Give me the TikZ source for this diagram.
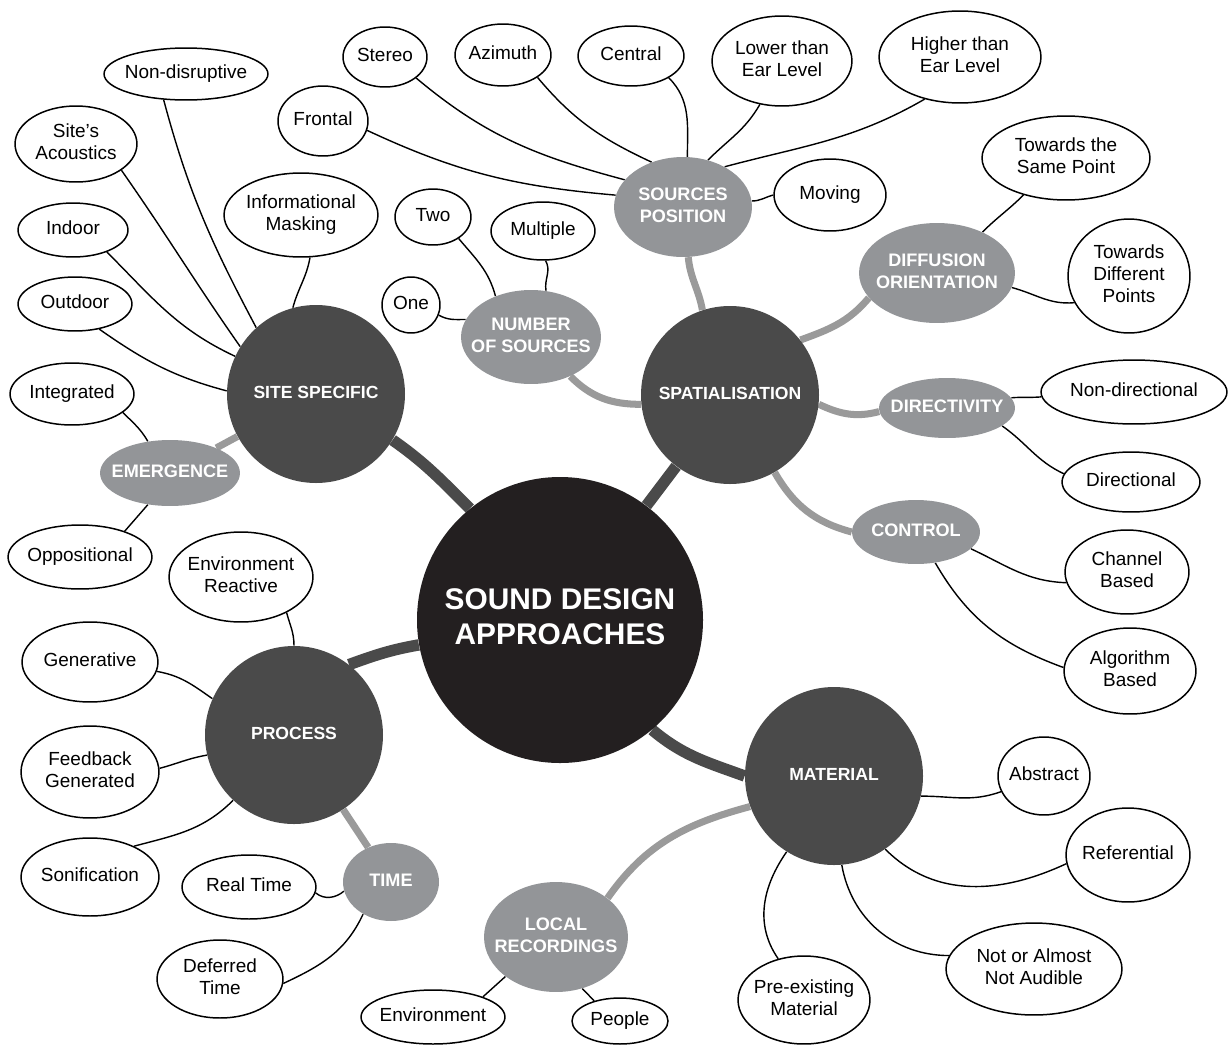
\documentclass[tikz,border=0pt]{standalone}
\usepackage{fontspec}
\setmainfont{Liberation Sans}
\usetikzlibrary{shapes.geometric}
\pgfdeclarelayer{bg}
\pgfdeclarelayer{paper}
\pgfsetlayers{paper,bg,main}
\definecolor{corecol}{HTML}{231F20}
\definecolor{primcol}{HTML}{4A4A4A}
\definecolor{seccol}{HTML}{939598}
\definecolor{linkcol}{HTML}{9A9A9A}
\newcommand\lbl[1]{\makebox[0pt]{\begin{tabular}{@{}c@{}}#1\end{tabular}}}
\tikzset{
 leaf/.style={ellipse, draw=black, line width=0.85pt, fill=white, inner sep=0pt, font=\fontsize{10.8}{12.5}\selectfont},
 primary/.style={circle, fill=primcol, inner sep=0pt, text=white, minimum size=178*0.02cm, font=\fontsize{10}{12}\selectfont\bfseries},
 second/.style={ellipse, fill=seccol, inner sep=0pt, text=white, font=\fontsize{10.3}{12.5}\selectfont\bfseries},
 corenode/.style={circle, fill=corecol, inner sep=0pt, text=white, minimum size=286*0.02cm, font=\fontsize{17}{20}\selectfont\bfseries},
 sz/.style 2 args={minimum width=#1*0.04cm, minimum height=#2*0.04cm},
 thinlink/.style={draw=black, line width=0.8pt},
 seclink/.style={draw=linkcol, line width=4pt},
 mainlink/.style={draw=primcol, line width=6.5pt},
}
\begin{document}
\begin{tikzpicture}[x=0.02cm,y=0.02cm]
\begin{pgfonlayer}{paper}
\fill[white] (0,0) rectangle (1230,-1045);
\end{pgfonlayer}
\useasboundingbox (0,0) rectangle (1230,-1045);

% core and primaries
\node[corenode] (c) at (560,-620) {\lbl{SOUND DESIGN\\APPROACHES}};
\node[primary] (ss) at (316,-394) {\lbl{SITE SPECIFIC}};
\node[primary] (sp) at (730,-395) {\lbl{SPATIALISATION}};
\node[primary] (pr) at (294,-735) {\lbl{PROCESS}};
\node[primary] (ma) at (834,-776) {\lbl{MATERIAL}};

% secondaries
\node[second, sz={69}{50}] (spos) at (683,-207) {\lbl{SOURCES\\POSITION}};
\node[second, sz={70}{47}] (ns) at (531,-337) {\lbl{NUMBER\\OF SOURCES}};
\node[second, sz={78}{50}] (dor) at (937,-273) {\lbl{DIFFUSION\\ORIENTATION}};
\node[second, sz={68}{30}] (dv) at (947,-408) {\lbl{DIRECTIVITY}};
\node[second, sz={64}{32}] (ct) at (916,-532) {\lbl{CONTROL}};
\node[second, sz={70}{33}] (em) at (170,-473) {\lbl{EMERGENCE}};
\node[second, sz={48}{39}] (ti) at (391,-882) {\lbl{TIME}};
\node[second, sz={72}{55}] (lr) at (556,-937) {\lbl{LOCAL\\RECORDINGS}};

% leaves
\node[leaf, sz={82}{26}] (nd) at (186,-74) {\lbl{Non-disruptive}};
\node[leaf, sz={61}{38}] (sa) at (76,-144) {\lbl{Site’s\\Acoustics}};
\node[leaf, sz={55}{27}] (indr) at (73,-230) {\lbl{Indoor}};
\node[leaf, sz={57}{27}] (od) at (75,-304) {\lbl{Outdoor}};
\node[leaf, sz={77}{42}] (im) at (301,-215) {\lbl{Informational\\Masking}};
\node[leaf, sz={62}{31}] (ig) at (72,-394) {\lbl{Integrated}};
\node[leaf, sz={72}{32}] (op) at (80,-557) {\lbl{Oppositional}};
\node[leaf, sz={45}{35}] (fr) at (323,-121) {\lbl{Frontal}};
\node[leaf, sz={42}{30}] (st) at (385,-57) {\lbl{Stereo}};
\node[leaf, sz={48}{31}] (az) at (503,-55) {\lbl{Azimuth}};
\node[leaf, sz={53}{30}] (ce) at (631,-56) {\lbl{Central}};
\node[leaf, sz={70}{45}] (lo) at (782,-61) {\lbl{Lower than\\Ear Level}};
\node[leaf, sz={81}{46}] (hi) at (960,-57) {\lbl{Higher than\\Ear Level}};
\node[leaf, sz={56}{36}] (mv) at (830,-195) {\lbl{Moving}};
\node[leaf, sz={84}{42}] (ts) at (1066,-158) {\lbl{Towards the\\Same Point}};
\node[leaf, sz={61}{57}] (td) at (1129,-276) {\lbl{Towards\\Different\\Points}};
\node[leaf, sz={93}{32}] (ndir) at (1134,-392) {\lbl{Non-directional}};
\node[leaf, sz={69}{30}] (dir) at (1131,-482) {\lbl{Directional}};
\node[leaf, sz={62}{42}] (cb) at (1127,-572) {\lbl{Channel\\Based}};
\node[leaf, sz={66}{43}] (ab) at (1130,-671) {\lbl{Algorithm\\Based}};
\node[leaf, sz={29}{28}] (one) at (411,-305) {\lbl{One}};
\node[leaf, sz={38}{28}] (two) at (433,-217) {\lbl{Two}};
\node[leaf, sz={52}{29}] (mu) at (543,-231) {\lbl{Multiple}};
\node[leaf, sz={72}{45}] (er) at (241,-577) {\lbl{Environment\\Reactive}};
\node[leaf, sz={68}{40}] (ge) at (90,-662) {\lbl{Generative}};
\node[leaf, sz={69}{46}] (fg) at (90,-772) {\lbl{Feedback\\Generated}};
\node[leaf, sz={69}{39}] (so) at (90,-877) {\lbl{Sonification}};
\node[leaf, sz={67}{32}] (rt) at (249,-887) {\lbl{Real Time}};
\node[leaf, sz={63}{39}] (dt) at (220,-979) {\lbl{Deferred\\Time}};
\node[leaf, sz={46}{39}] (abs) at (1044,-776) {\lbl{Abstract}};
\node[leaf, sz={62}{47}] (ref) at (1128,-855) {\lbl{Referential}};
\node[leaf, sz={88}{46}] (na) at (1034,-969) {\lbl{Not or Almost\\Not Audible}};
\node[leaf, sz={66}{44}] (pe) at (804,-1000) {\lbl{Pre-existing\\Material}};
\node[leaf, sz={72}{27}] (env) at (433,-1017) {\lbl{Environment}};
\node[leaf, sz={48}{23}] (pp) at (620,-1021) {\lbl{People}};

\begin{pgfonlayer}{bg}
% core links
\draw[mainlink] (ss.-31) to[out=-35,in=135] (c.129);
\draw[mainlink] (c) -- (sp);
\draw[mainlink] (pr.52) to[out=20,in=190] (c.190);
\draw[mainlink] (c.-50) to[out=-40,in=160] (ma.180);
% secondary links
\draw[seclink] (em) -- (ss);
\draw[seclink] (spos.-84) to[out=-85,in=100] (sp.108);
\draw[seclink] (ns.-45) to[out=-45,in=180] (sp.186);
\draw[seclink] (sp.38) to[out=20,in=-130] (dor.-160);
\draw[seclink] (sp.-6) to[out=-25,in=195] (dv.183);
\draw[seclink] (sp.-60) to[out=-60,in=165] (ct.180);
\draw[seclink] (pr) -- (ti);
\draw[seclink] (ma.200) to[out=195,in=55] (lr.37);
% site specific
\draw[thinlink] (nd.-131) to[out=-75,in=118] (ss.132);
\draw[thinlink] (sa.-30) to[out=-55,in=125] (ss.148);
\draw[thinlink] (indr.-33) to[out=-45,in=155] (ss.155);
\draw[thinlink] (od.-46) to[out=-35,in=165] (ss.178);
\draw[thinlink] (im.-78) to[out=-100,in=75] (ss.105);
\draw[thinlink] (ig.-20) to[out=-45,in=120] (em.125);
\draw[thinlink] (op.30) -- (em.-125);
% sources position
\draw[thinlink] (fr.-12) to[out=-25,in=175] (spos.170);
\draw[thinlink] (st.-34) to[out=-40,in=165] (spos.155);
\draw[thinlink] (az.-33) to[out=-50,in=155] (spos.125);
\draw[thinlink] (ce.-30) to[out=-45,in=90] (spos.85);
\draw[thinlink] (lo.-117) to[out=-120,in=45] (spos.62);
\draw[thinlink] (hi.-130) to[out=-150,in=15] (spos.44);
\draw[thinlink] (mv.180) to[out=195,in=0] (spos.5);
% diffusion, directivity, control
\draw[thinlink] (ts.-139) to[out=-135,in=45] (dor.42);
\draw[thinlink] (td.-154) to[out=-175,in=-15] (dor.-11);
\draw[thinlink] (ndir.183) to[out=185,in=5] (dv.9);
\draw[thinlink] (dir.173) to[out=155,in=-35] (dv.-18);
\draw[thinlink] (cb.-170) to[out=178,in=-25] (ct.-17);
\draw[thinlink] (ab.177) to[out=160,in=-60] (ct.-58);
% number of sources
\draw[thinlink] (one.-20) to[out=-30,in=180] (ns.165);
\draw[thinlink] (two.-40) to[out=-50,in=105] (ns.131);
\draw[thinlink] (mu.-85) to[out=-60,in=100] (ns.72);
% process, time
\draw[thinlink] (er.-38) to[out=-75,in=90] (pr.90);
\draw[thinlink] (ge.-8) to[out=-10,in=145] (pr.156);
\draw[thinlink] (fg.3) to[out=15,in=190] (pr.193);
\draw[thinlink] (so.35) to[out=15,in=-135] (pr.-133);
\draw[thinlink] (rt.-5) to[out=-40,in=-140] (ti.-169);
\draw[thinlink] (dt.-4) to[out=25,in=-115] (ti.-131);
% material, local recordings
\draw[thinlink] (abs.-160) to[out=200,in=0] (ma.-13);
\draw[thinlink] (ref.-172) to[out=-155,in=-45] (ma.-55);
\draw[thinlink] (na.171) to[out=180,in=-80] (ma.-85);
\draw[thinlink] (pe.122) to[out=125,in=-125] (ma.-122);
\draw[thinlink] (env.22) -- (lr.-142);
\draw[thinlink] (pp.142) -- (lr.-63);
\end{pgfonlayer}
\end{tikzpicture}
\end{document}
